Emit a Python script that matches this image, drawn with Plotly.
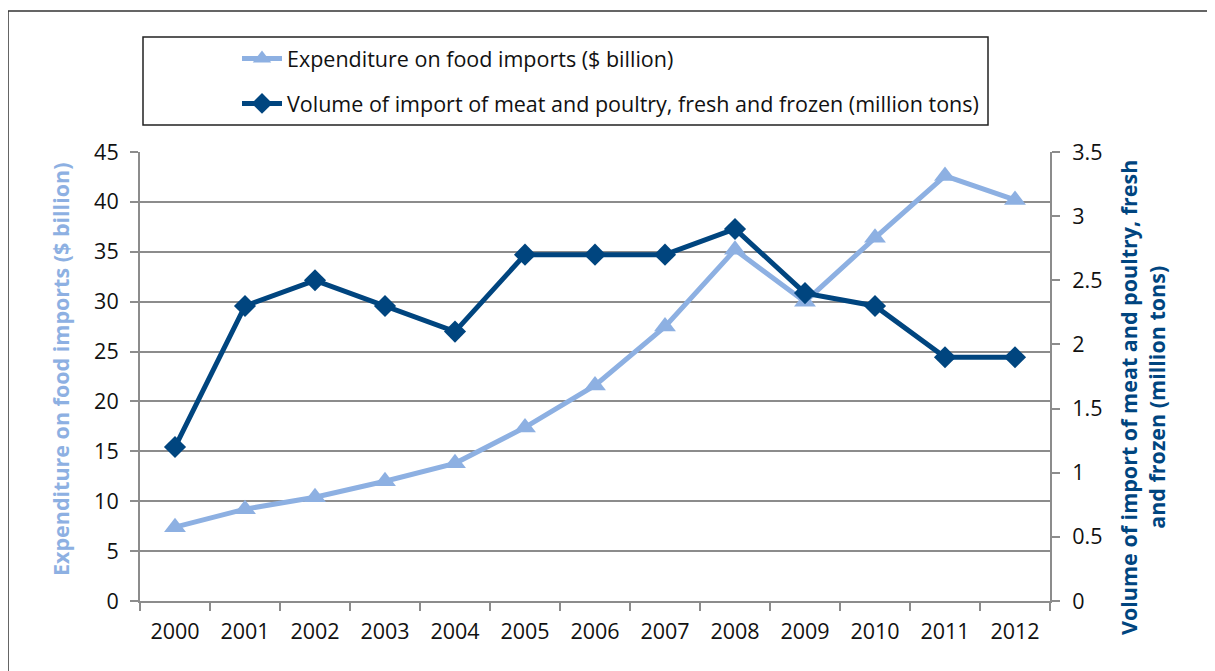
import plotly.graph_objects as go

years = ["2000", "2001", "2002", "2003", "2004", "2005", "2006",
         "2007", "2008", "2009", "2010", "2011", "2012"]
expenditure = [7.4, 9.2, 10.4, 12.0, 13.8, 17.4, 21.6, 27.5, 35.2, 30.0, 36.4, 42.6, 40.2]
volume = [1.2, 2.3, 2.5, 2.3, 2.1, 2.7, 2.7, 2.7, 2.9, 2.4, 2.3, 1.9, 1.9]

name_exp = "Expenditure on food imports ($ billion)"
name_vol = "Volume of import of meat and poultry, fresh and frozen (million tons)"
left_title = "Expenditure on food imports ($ billion)"
right_title = "Volume of import of meat and poultry, fresh<br>and frozen (million tons)"

light = "#8DB0E2"
dark = "#00457F"
grid = "#8C8C8C"
FONT = "Open Sans"
FS = 21.5

OFF = 8  # page body margin
W, H = 1215 - OFF, 671 - OFF
L, R, T, B = 132, 165, 144, 70
pw, ph = W - L - R, H - T - B


def px(x):  # absolute page x -> paper
    return (x - OFF - L) / pw


def py(y):  # absolute page y -> paper
    return (H - B - (y - OFF)) / ph


fig = go.Figure()
fig.add_trace(go.Scatter(
    x=years, y=expenditure, name=name_exp, mode="lines+markers",
    line=dict(color=light, width=5),
    marker=dict(symbol="triangle-up", size=19, color=light),
    legendgroup="a", yaxis="y"))
fig.add_trace(go.Scatter(
    x=years, y=volume, name=name_vol, mode="lines+markers",
    line=dict(color=dark, width=5),
    marker=dict(symbol="diamond", size=17, color=dark),
    legendgroup="b", yaxis="y2"))

tickfont = dict(family=FONT, size=FS, color="#111111")

fig.update_layout(
    width=W, height=H,
    margin=dict(l=L, r=R, t=T, b=B),
    paper_bgcolor="white", plot_bgcolor="white",
    font=dict(family=FONT, size=FS, color="#111111"),
    showlegend=True,
    legend=dict(x=px(237), y=py(38), xanchor="left", yanchor="top",
                bgcolor="rgba(0,0,0,0)", borderwidth=0,
                font=dict(family=FONT, size=FS, color="#111111"),
                tracegroupgap=14, itemwidth=40),
    xaxis=dict(type="category", range=[-0.5, len(years) - 0.5],
               showgrid=False, showline=True,
               linecolor=grid, linewidth=2, ticks="outside",
               tickson="boundaries", ticklen=8, tickcolor=grid, tickwidth=2,
               tickfont=tickfont, ticklabelstandoff=10,
               zeroline=False),
    yaxis=dict(range=[0, 45], dtick=5, showgrid=True, gridcolor=grid,
               gridwidth=2, showline=True, linecolor=grid, linewidth=2,
               ticks="outside", ticklen=8, tickcolor=grid, tickwidth=2,
               tickfont=tickfont, ticklabelstandoff=7,
               zeroline=False),
    yaxis2=dict(range=[0, 3.5], dtick=0.5, overlaying="y", side="right",
                showgrid=False, showline=True, linecolor=grid, linewidth=2,
                ticks="outside", ticklen=8, tickcolor=grid, tickwidth=2,
                tickfont=tickfont, ticklabelstandoff=8,
                zeroline=False),
)

fig.add_annotation(text=left_title, xref="paper", yref="paper",
                   x=px(60), y=py(370), xanchor="center", yanchor="middle",
                   textangle=-90, showarrow=False,
                   font=dict(family=FONT, size=FS, color=light, weight="bold"))
fig.add_annotation(text=right_title, xref="paper", yref="paper",
                   x=px(1142), y=py(398), xanchor="center", yanchor="middle",
                   textangle=-90, showarrow=False,
                   font=dict(family=FONT, size=FS, color=dark, weight="bold"))

# legend box
fig.add_shape(type="rect", xref="paper", yref="paper",
              x0=px(143), x1=px(988), y0=py(125), y1=py(37),
              line=dict(color="#222222", width=1.5), fillcolor="rgba(0,0,0,0)")
# outer frame
fig.add_shape(type="rect", xref="paper", yref="paper",
              x0=px(8), x1=px(1230), y0=py(700), y1=py(11),
              line=dict(color="#333333", width=1.5), fillcolor="rgba(0,0,0,0)")

fig.write_html("out.html")
